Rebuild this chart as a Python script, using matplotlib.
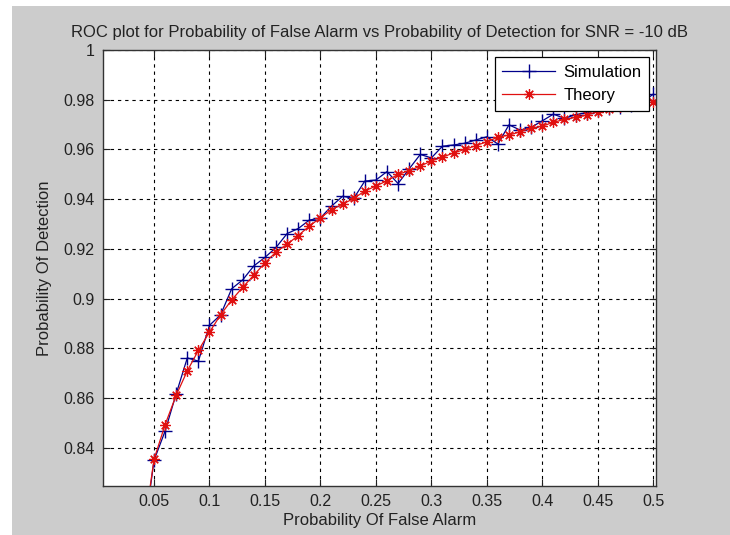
import matplotlib
matplotlib.use("Agg")

import numpy as np
import matplotlib.pyplot as plt
from matplotlib.patches import Rectangle
from matplotlib.ticker import FormatStrFormatter

# -----------------------
# DATA
# -----------------------
pfa = [0.04, 0.05, 0.06, 0.07, 0.08, 0.09, 0.10, 0.11, 0.12, 0.13,
       0.14, 0.15, 0.16, 0.17, 0.18, 0.19, 0.20, 0.21, 0.22, 0.23,
       0.24, 0.25, 0.26, 0.27, 0.28, 0.29, 0.30, 0.31, 0.32, 0.33,
       0.34, 0.35, 0.36, 0.37, 0.38, 0.39, 0.40, 0.41, 0.42, 0.43,
       0.44, 0.45, 0.46, 0.47, 0.48, 0.49, 0.50]

pd_sim = [0.802, 0.8350, 0.8468, 0.8618, 0.8762, 0.8749, 0.8893, 0.8935, 0.9040, 0.9076,
          0.9132, 0.9166, 0.9206, 0.9262, 0.9282, 0.9316, 0.9325, 0.9372, 0.9412, 0.9403,
          0.9473, 0.9477, 0.9511, 0.9463, 0.9522, 0.9580, 0.9566, 0.9613, 0.9618, 0.9625,
          0.9638, 0.9651, 0.9622, 0.9699, 0.9678, 0.9689, 0.9715, 0.9742, 0.9725, 0.9740,
          0.9748, 0.9760, 0.9768, 0.9772, 0.9780, 0.9790, 0.9822]

pd_theory = [0.804, 0.8354, 0.8494, 0.8612, 0.8710, 0.8792, 0.8866, 0.8935, 0.8995, 0.9046,
             0.9095, 0.9144, 0.9188, 0.9219, 0.9254, 0.9292, 0.9325, 0.9358, 0.9380, 0.9403,
             0.9433, 0.9453, 0.9474, 0.9500, 0.9515, 0.9533, 0.9554, 0.9569, 0.9586, 0.9600,
             0.9615, 0.9631, 0.9649, 0.9658, 0.9671, 0.9685, 0.9694, 0.9709, 0.9721, 0.9729,
             0.9738, 0.9752, 0.9761, 0.9769, 0.9776, 0.9783, 0.9792]

x_ticks = [0.05, 0.1, 0.15, 0.2, 0.25, 0.3, 0.35, 0.4, 0.45, 0.5]
y_ticks = [0.84, 0.86, 0.88, 0.9, 0.92, 0.94, 0.96, 0.98, 1.0]

# -----------------------
# PLOT
# -----------------------
plt.rcParams['font.family'] = ['Liberation Sans', 'DejaVu Sans']

fig = plt.figure(figsize=(7.3, 5.35), dpi=100, facecolor='#cccccc')
ax = fig.add_axes([0.1411, 0.0916, 0.7575, 0.8150])

# white strips at top and left edge of the screenshot
fig.patches.append(Rectangle((0, 1 - 6 / 535), 1, 6 / 535, transform=fig.transFigure,
                             facecolor='white', edgecolor='none', zorder=-1))
fig.patches.append(Rectangle((0, 0), 12 / 730, 1, transform=fig.transFigure,
                             facecolor='white', edgecolor='none', zorder=-1))

asterisk = (8, 2, 0)  # matlab-style '*'
ax.plot(pfa, pd_sim, color='#00008b', marker='+', markersize=10, markeredgewidth=1.0,
        linewidth=0.9, label='Simulation')
ax.plot(pfa, pd_theory, color='#e01010', marker=asterisk, markersize=7.5, markeredgewidth=0.9,
        linewidth=0.9, label='Theory')

ax.set_xlim(0.004, 0.5025)
ax.set_ylim(0.8247, 1.0)
ax.set_xticks(x_ticks)
ax.set_yticks(y_ticks)
ax.xaxis.set_major_formatter(FormatStrFormatter('%g'))
ax.yaxis.set_major_formatter(FormatStrFormatter('%g'))
ax.tick_params(direction='in', top=True, right=True, length=5, labelsize=11.5,
               colors='#222222', pad=6)

ax.grid(True, color='black', linestyle=(0, (3, 3.5)), linewidth=0.8)
for s in ax.spines.values():
    s.set_linewidth(1.0)
    s.set_color('#333333')

ax.set_title('ROC plot for Probability of False Alarm vs Probability of Detection for SNR = -10 dB',
             fontsize=12, pad=9, color='#222222')
ax.set_xlabel('Probability Of False Alarm', fontsize=12, labelpad=3, color='#222222')
ax.set_ylabel('Probability Of Detection', fontsize=12, labelpad=8, color='#222222')

leg = ax.legend(loc='upper right', bbox_to_anchor=(1.003, 1.002), fontsize=12,
                fancybox=False, framealpha=1, edgecolor='black',
                handlelength=3.2, borderpad=0.45, labelspacing=0.5, handletextpad=0.5)
leg.get_frame().set_linewidth(0.9)

plt.savefig('out.png', dpi=100, facecolor=fig.get_facecolor())
plt.close()
